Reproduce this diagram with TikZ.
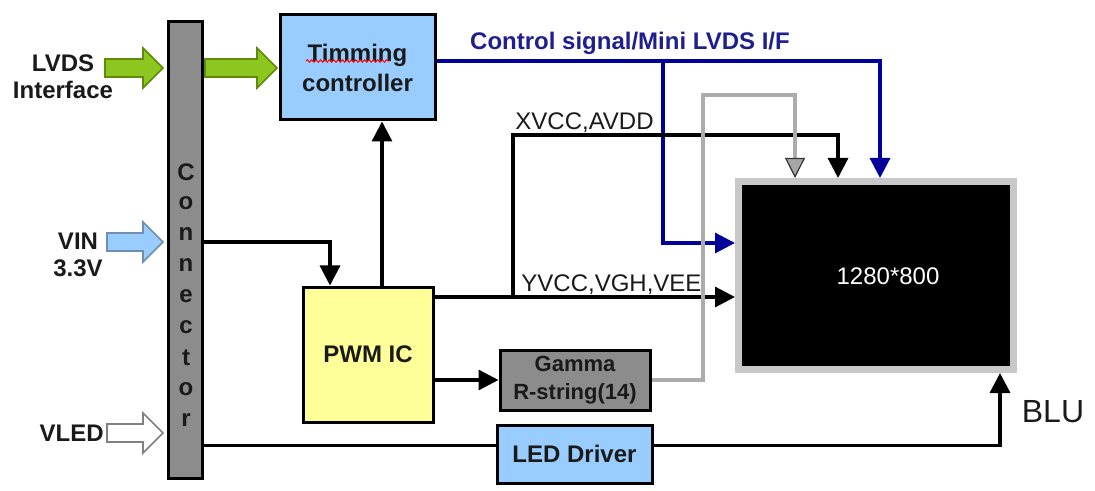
\documentclass[tikz,border=0pt]{standalone}
\usepackage{fontspec}
\setmainfont{Liberation Sans}
\usetikzlibrary{arrows.meta,decorations.pathmorphing}
\definecolor{lcdgreen}{HTML}{8CC61E}
\definecolor{lcdgreenline}{HTML}{5E8C0A}
\definecolor{lcdblue}{HTML}{99CCFF}
\definecolor{lcdblueline}{HTML}{6F8FB0}
\definecolor{lcdyellow}{HTML}{FFFF99}
\definecolor{lcdnavy}{HTML}{000099}
\definecolor{lcdtitle}{HTML}{1F1F8F}
\definecolor{lcdgrey}{HTML}{8C8C8C}
\definecolor{lcdframe}{HTML}{C8C8C8}
\definecolor{lcdtext}{HTML}{1A1A1A}

% block arrow: start x, centre y, length, style, name of tip
\newcommand{\inarrow}[5]{%
  \draw[#4] (#1,#2-9) -- ++(#3-20,0) -- ++(0,-11) -- ++(20,20) -- ++(-20,20)
    -- ++(0,-11) -- ++(-#3+20,0) -- cycle;
  \coordinate (#5) at (#1+#3,#2);}

\begin{document}
\begin{tikzpicture}[x=0.5pt,y=-0.5pt,
  box/.style={draw=black,line width=1.5pt,font=\fontsize{12}{15}\selectfont\bfseries,text=lcdtext,align=center,inner sep=0pt},
  lbl/.style={font=\fontsize{12}{13.5}\selectfont\bfseries,text=lcdtext,align=center,inner sep=0pt},
  plain/.style={font=\fontsize{12}{14}\selectfont,text=lcdtext,inner sep=1pt},
  wire/.style={line width=1.6pt,-{Triangle[length=10pt,width=10pt]}},
  sig/.style={wire,lcdnavy},
  gwire/.style={line width=1.6pt,gray!65,-{Triangle[length=10pt,width=10pt,fill=gray!70,color=gray!40!black,line width=0.6pt]}}
]
\useasboundingbox (0,0) rectangle (1095,491);

% blocks
\node[box,fill=lcdgrey,minimum width=17pt,minimum height=228pt] (conn) at (185,250) {};
\foreach \ch [count=\i from 0] in {C,o,n,n,e,c,t,o,r}
  \node[lbl] (ch\i) at (186,172+31*\i) {\ch};
\node[box,fill=lcdblue,minimum width=77.5pt,minimum height=52.5pt] (tcon) at (357.5,67.5) {Timming\\controller};
\draw[red,line width=0.5pt,decorate,decoration={snake,amplitude=0.6pt,segment length=2.2pt}] (306,61) -- (390,61);
\node[box,fill=lcdyellow,minimum width=65pt,minimum height=67.5pt] (pwm) at (368,354.5) {PWM IC};
\node[box,fill=lcdgrey,minimum width=75pt,minimum height=30pt,font=\fontsize{11}{14}\selectfont\bfseries] (gamma) at (575,380) {Gamma\\R-string(14)};
\node[box,fill=lcdblue,minimum width=77.5pt,minimum height=29pt] (led) at (574.5,454) {LED Driver};
\node[draw=lcdframe,line width=3.5pt,fill=black,minimum width=137.5pt,minimum height=94pt] (lcd) at (876,275.5) {};
\node[plain,text=white] (res) at (888,276) {1280*800};

% inputs
\inarrow{105}{68}{58}{fill=lcdgreen,draw=lcdgreenline,line width=0.8pt}{lvdstip}
\inarrow{205}{68}{72}{fill=lcdgreen,draw=lcdgreenline,line width=0.8pt}{lvdsout}
\inarrow{107}{242}{56}{fill=lcdblue,draw=lcdblueline,line width=0.8pt}{vintip}
\inarrow{107}{433}{56}{fill=white,draw=gray,line width=0.8pt}{vledtip}
\node[lbl] (lvdslbl) at (63,77) {LVDS\\Interface};
\node[lbl] (vinlbl) at (78,255) {VIN\\3.3V};
\node[lbl,anchor=east] (vledlbl) at (104,433) {VLED};
\node[plain,font=\fontsize{16}{18}\selectfont] (blu) at (1053,412) {BLU};

% bus positions
\coordinate (ctlbus) at (663,0);
\coordinate (pwrbus) at (513,0);
\coordinate (gambus) at (703,0);
\coordinate (xrow) at (0,135);
\coordinate (grow) at (0,95);

% power
\draw[wire] (conn.east |- vintip) -| ([xshift=-19pt]pwm.north);
\draw[wire] ([xshift=7pt]pwm.north) -- ([xshift=7pt]pwm.north |- tcon.south);

% control signals
\coordinate (ctl) at ([yshift=3.25pt]tcon.east);
\draw[sig] (ctl) -| ([xshift=2pt]lcd.north);
\draw[sig] (ctl -| ctlbus) |- ([yshift=16.25pt]lcd.west);
\node[lbl,text=lcdtitle] (ctllbl) at (630,43) {Control signal/Mini LVDS I/F};

% supplies
\coordinate (yout) at ([yshift=28.75pt]pwm.east);
\coordinate (xin) at ([xshift=-19pt]lcd.north);
\draw[wire] (yout) -- (yout -| lcd.west);
\draw[wire] (yout -| pwrbus) -- (pwrbus |- xrow) -| (xin);
\node[plain,anchor=south west] (xlbl) at (pwrbus |- xrow) {XVCC,AVDD};
\node[plain,anchor=south west] (ylbl) at ([xshift=3pt]yout -| pwrbus) {YVCC,VGH,VEE};

% gamma
\coordinate (gin) at ([xshift=-40.5pt]lcd.north);
\draw[wire] (gamma.west -| pwm.east) -- (gamma.west);
\draw[gwire] (gamma.east) -| (gambus |- grow) -| (gin);

% backlight
\coordinate (ledin) at ([yshift=4.25pt]led.west);
\draw[line width=1.6pt] (conn.east |- ledin) -- (ledin);
\draw[wire] (ledin -| led.east) -| ([xshift=62pt]lcd.south);
\end{tikzpicture}
\end{document}
